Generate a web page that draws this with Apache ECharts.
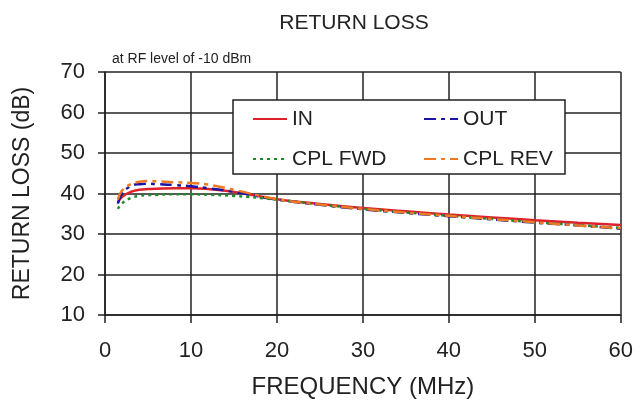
<!DOCTYPE html>
<html>
<head>
<meta charset="utf-8">
<script src="https://cdn.jsdelivr.net/npm/echarts@6/dist/echarts.min.js"></script>
<style>
  html, body { margin: 0; padding: 0; background: #fff; }
  #chart { width: 636px; height: 404px; }
</style>
</head>
<body>
<div id="chart"></div>
<script>
// frequency points (MHz)
const freq = [1.5, 2, 3, 4, 5, 6, 8, 10, 12, 15, 20, 25, 30, 35, 40, 45, 50, 55, 60]

// return loss (dB)
const inLoss = [37.8, 39.2, 40.4, 40.9, 41.1, 41.2, 41.3, 41.3, 41.1, 40.4, 38.6, 37.4, 36.4, 35.6, 34.8, 34.1, 33.4, 32.8, 32.2]
const outLoss = [37.5, 40.0, 41.8, 42.3, 42.4, 42.3, 42.1, 41.8, 41.3, 40.4, 38.5, 37.2, 36.1, 35.2, 34.4, 33.6, 32.8, 32.1, 31.3]
const fwdLoss = [36.2, 37.6, 38.9, 39.4, 39.6, 39.7, 39.8, 39.8, 39.7, 39.4, 38.5, 37.3, 36.2, 35.3, 34.5, 33.7, 32.9, 32.2, 31.5]
const revLoss = [38.5, 40.8, 42.3, 42.9, 43.1, 43.0, 42.8, 42.6, 42.2, 40.9, 38.6, 37.3, 36.2, 35.3, 34.5, 33.7, 32.9, 32.1, 31.4]

const seriesNames = ['IN', 'OUT', 'CPL FWD', 'CPL REV']

const font = 'Liberation Sans, Arial, sans-serif'
const ink = '#222'

function pairs(ys) {
  return freq.map((f, i) => [f, ys[i]])
}

function line(name, ys, color, dash) {
  return {
    name: name,
    type: 'line',
    data: pairs(ys),
    smooth: true,
    symbol: 'none',
    lineStyle: { color: color, width: 2.5, type: dash },
    itemStyle: { color: color }
  }
}

const chart = echarts.init(document.getElementById('chart'))

// left column labels get a wider text box so the right column lines up
const legendData = seriesNames.map((n, i) => ({
  name: n,
  textStyle: { width: i % 2 === 0 ? 119 : 96 }
}))

const option = {
  animation: false,
  backgroundColor: '#fff',
  title: [
    {
      text: 'RETURN LOSS',
      left: 349, top: 8, textAlign: 'center',
      textStyle: { fontFamily: font, fontSize: 21, fontWeight: 'normal', color: ink }
    },
    {
      text: 'at RF level of -10 dBm',
      left: 107, top: 47,
      textStyle: { fontFamily: font, fontSize: 14, fontWeight: 'normal', color: ink }
    }
  ],
  legend: {
    data: legendData,
    left: 233, top: 100,
    width: 340,
    orient: 'horizontal',
    padding: [5, 6, 1, 19],
    itemGap: 12,
    itemWidth: 34,
    itemHeight: 14,
    itemStyle: { opacity: 0 },
    backgroundColor: '#fff',
    borderColor: '#222',
    borderWidth: 1.5,
    borderRadius: 0,
    textStyle: { fontFamily: font, fontSize: 21, color: ink, lineHeight: 28 }
  },
  grid: { left: 105, right: 15, top: 72, bottom: 88 },
  xAxis: {
    type: 'value',
    min: 0, max: 60, interval: 10,
    name: 'FREQUENCY (MHz)',
    nameLocation: 'middle',
    nameGap: 60,
    nameTextStyle: { fontFamily: font, fontSize: 24, color: ink },
    axisLine: { show: true, lineStyle: { color: '#222', width: 1.5 } },
    axisTick: { show: true, length: 8, lineStyle: { color: '#222', width: 1.5 } },
    axisLabel: { fontFamily: font, fontSize: 22, color: ink, margin: 25 },
    splitLine: { show: true, lineStyle: { color: '#222', width: 1.5 } }
  },
  yAxis: {
    type: 'value',
    min: 10, max: 70, interval: 10,
    name: 'RETURN LOSS (dB)',
    nameLocation: 'middle',
    nameGap: 71,
    nameTextStyle: { fontFamily: font, fontSize: 23, color: ink },
    axisLine: { show: true, lineStyle: { color: '#222', width: 1.5 } },
    axisTick: { show: true, length: 7, lineStyle: { color: '#222', width: 1.5 } },
    axisLabel: { fontFamily: font, fontSize: 22, color: ink, margin: 20 },
    splitLine: { show: true, lineStyle: { color: '#222', width: 1.5 } }
  },
  series: [
    line('IN', inLoss, '#e0202a', 'solid'),
    line('OUT', outLoss, '#1a14a8', [12, 5, 4, 5]),
    line('CPL FWD', fwdLoss, '#1f8a2a', [3, 4]),
    line('CPL REV', revLoss, '#f07a22', [12, 5, 4, 5])
  ]
}

chart.setOption(option)
</script>
</body>
</html>
